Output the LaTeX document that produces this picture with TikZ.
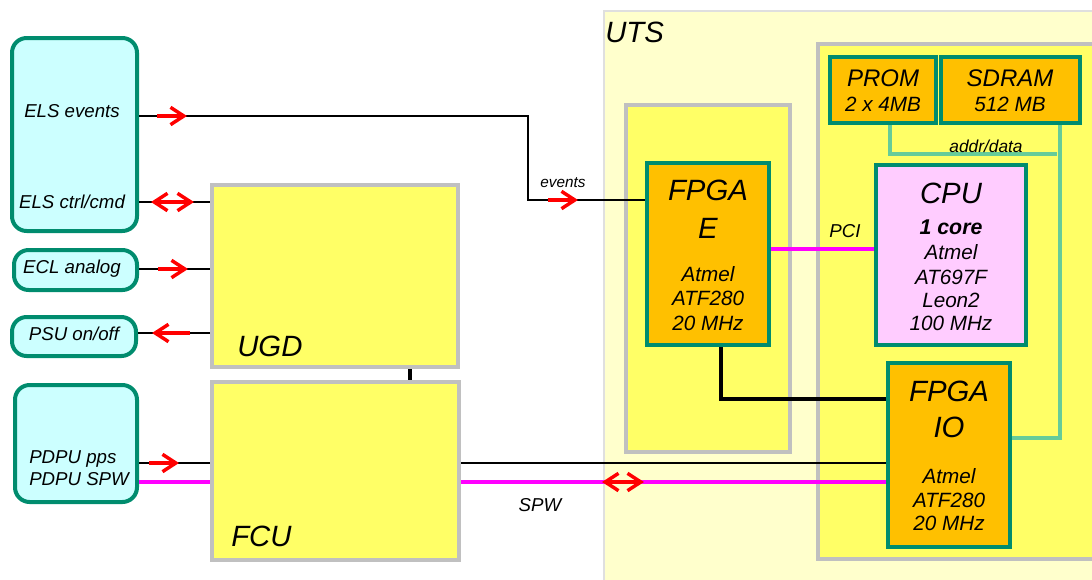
\documentclass[tikz,border=0pt]{standalone}
\usepackage{fontspec}
\setmainfont{Liberation Sans}
\usetikzlibrary{arrows.meta}
\definecolor{tealb}{RGB}{0,140,110}
\definecolor{cyanf}{RGB}{204,255,255}
\definecolor{ylw}{RGB}{255,255,102}
\definecolor{ltylw}{RGB}{255,255,204}
\definecolor{orng}{RGB}{255,192,0}
\definecolor{pinkf}{RGB}{255,204,255}
\definecolor{greyb}{RGB}{192,192,192}
\definecolor{addrc}{RGB}{102,204,153}
\definecolor{mgnt}{RGB}{255,0,255}
\definecolor{redarr}{RGB}{255,0,0}
\begin{document}
\begin{tikzpicture}[x=0.75pt,y=-0.75pt,
  sz/.style 2 args={minimum width=#1*0.75pt,minimum height=#2*0.75pt,inner sep=0pt},
  ext/.style={draw=tealb,fill=cyanf,line width=3pt,rounded corners=11pt},
  unit/.style={draw=greyb,fill=ylw,line width=3pt},
  chip/.style={draw=tealb,fill=orng,line width=3pt},
  wire/.style={line width=1.8pt},
  spw/.style={mgnt,line width=3pt},
  bus/.style={addrc,line width=2.6pt},
  sig/.style={redarr,line width=3pt,-{Straight Barb[length=10pt,width=13pt,line width=2.6pt]}},
  sigboth/.style={redarr,line width=3pt,{Straight Barb[length=10pt,width=13pt,line width=2.6pt]}-{Straight Barb[length=10pt,width=13pt,line width=2.6pt]}},
  title/.style={font=\fontsize{22}{26}\selectfont\itshape,inner sep=0pt},
  lbl/.style={font=\fontsize{14}{16}\selectfont\itshape,inner sep=0pt},
  small/.style={font=\fontsize{11.5}{13}\selectfont\itshape,inner sep=0pt},
  spec/.style={font=\fontsize{15.5}{18}\selectfont\itshape,inner sep=0pt},
  mem/.style={font=\fontsize{18}{20}\selectfont\itshape,inner sep=0pt}]
\useasboundingbox (0,0) rectangle (1092,579);

% UTS and its boards
\node [sz={500}{590},draw=gray!25,fill=ltylw,line width=1.2pt,anchor=north west] (uts) at (603,10) {};
\node [title,anchor=west] (utstxt) at (605,32) {UTS};
\node [unit,sz={164}{347}] (ebrd) at (708,278.5) {};
\node [unit,sz={290}{515},anchor=north west] (cpubrd) at (816,42) {};

% external units
\node [ext,sz={125}{193}] (els) at (74.5,134.5) {};
\node [ext,sz={123}{40}] (ecl) at (75.5,270) {};
\node [ext,sz={124}{39}] (psu) at (74,336.5) {};
\node [ext,sz={122}{117}] (pdpu) at (76,443.5) {};
\node [lbl] (elsev) at (72,111) {ELS events};
\node [lbl] (elscmd) at (72,202) {ELS ctrl/cmd};
\node [lbl] (ecltxt) at (72,269) {ECL analog};
\node [lbl] (psutxt) at (74,334) {PSU on/off};
\node [lbl,anchor=west] (ppstxt) at (29,459) {PDPU pps};
\node [lbl,anchor=west] (spwtxt) at (29,479) {PDPU SPW};

% UGD and FCU
\node [unit,sz={246}{182}] (ugd) at (335,276) {};
\node [unit,sz={247}{178}] (fcu) at (335.5,471) {};
\node [title,anchor=west] (ugdtxt) at (237,346) {UGD};
\node [title,anchor=west] (fcutxt) at (231,536) {FCU};

% chips
\node [chip,sz={122}{182}] (fpgaE) at (708,254) {};
\node [chip,sz={122}{184}] (fpgaIO) at (949,455) {};
\node [chip,sz={106}{66}] (prom) at (883,90) {};
\node [chip,sz={139}{66}] (sdram) at (1010.5,90) {};
\node [draw=tealb,fill=pinkf,line width=3pt,sz={150}{180}] (cpu) at (951,255) {};

\node [title] (fe1) at (708,190) {FPGA};
\node [title] (fe2) at (708,228) {E};
\node [spec] (fe3) at (708,274) {Atmel};
\node [spec] (fe4) at (708,298) {ATF280};
\node [spec] (fe5) at (708,323) {20 MHz};

\node [title] (fi1) at (949,391) {FPGA};
\node [title] (fi2) at (949,427) {IO};
\node [spec] (fi3) at (949,476) {Atmel};
\node [spec] (fi4) at (949,500) {ATF280};
\node [spec] (fi5) at (949,523) {20 MHz};

\node [title] (c1) at (951,193) {CPU};
\node [font=\fontsize{16}{18}\selectfont\bfseries\itshape,inner sep=0pt] (c2) at (951,227) {1 core};
\node [spec] (c3) at (951,252) {Atmel};
\node [spec] (c4) at (951,277) {AT697F};
\node [spec] (c5) at (951,300) {Leon2};
\node [spec] (c6) at (951,323) {100 MHz};

\node [mem] (p1) at (883,78) {PROM};
\node [spec] (p2) at (883,104) {2 x 4MB};
\node [mem] (s1) at (1010,78) {SDRAM};
\node [spec] (s2) at (1010,104) {512 MB};

% connections
\coordinate (evbend) at (528,200);
\draw [wire] (els.east |- 0,116) -| (evbend) -- (evbend -| fpgaE.west);
\draw [wire] (els.east |- elscmd) -- (ugd.west |- elscmd);
\draw [wire] (ecl.east |- 0,269) -- (ugd.west |- 0,269);
\draw [wire] (psu.east |- 0,333) -- (ugd.west |- 0,333);
\draw [wire,line width=3.2pt] (ugd.south -| 410,0) -- (fcu.north -| 410,0);
\draw [wire] (pdpu.east |- 0,463) -- (fcu.west |- 0,463);
\draw [wire] (fcu.east |- 0,463) -- (fpgaIO.west |- 0,463);
\draw [spw] (pdpu.east |- 0,482) -- (fcu.west |- 0,482);
\draw [spw] (fcu.east |- 0,482) -- (fpgaIO.west |- 0,482);
\draw [spw] (fpgaE.east |- 0,249) -- (cpu.west |- 0,249);
\draw [wire,line width=2.8pt] (fpgaE.south -| 721,0) |- (fpgaIO.west |- 0,399);
\draw [bus] (prom.south -| 890,0) |- (1057,154);
\draw [bus] (sdram.south -| 1060,0) |- (fpgaIO.east |- 0,438);

\node [small] (evtxt) at (563,183) {events};
\node [lbl] (pcitxt) at (845,231) {PCI};
\node [lbl] (spwlbl) at (540,505) {SPW};
\node [font=\fontsize{13}{15}\selectfont\itshape,inner sep=0pt] (addrtxt) at (986,146) {addr/data};

% signal directions
\draw [sig] (157,116) -- +(30,0);
\draw [sigboth] (151,202) -- +(43,0);
\draw [sig] (158,269) -- +(30,0);
\draw [sig] (190,333) -- +(-38,0);
\draw [sig] (149,463) -- +(30,0);
\draw [sig] (548,200) -- +(30,0);
\draw [sigboth] (602,482) -- +(42,0);
\end{tikzpicture}
\end{document}
